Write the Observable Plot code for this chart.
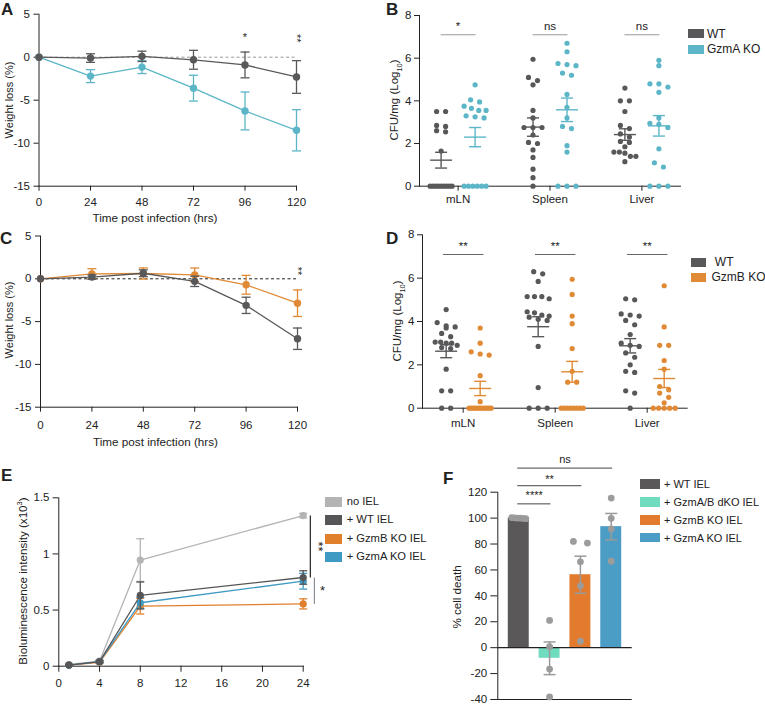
<!DOCTYPE html>
<html><head><meta charset="utf-8">
<script src="https://cdn.jsdelivr.net/npm/d3@7"></script>
<script src="https://cdn.jsdelivr.net/npm/@observablehq/plot@0.6"></script>
<style>
body{margin:0;background:#fff;}
#fig{position:relative;width:765px;height:706px;overflow:hidden;font-family:"Liberation Sans",Arial,Helvetica,sans-serif;color:#222;background:#fff;}
.t{position:absolute;white-space:pre;line-height:1;}
.sw{position:absolute;}
sub,sup{font-size:0.65em;line-height:0;}
</style></head><body><div id="fig"></div>
<script>
// ---------------- DATA ----------------
// Panels A & C: weight loss (%) over time
const hours = [0, 24, 48, 72, 96, 120];
const aWT = [0, -0.1, 0.1, -0.3, -0.9, -2.3];
const aWTerr = [0, 0.5, 0.6, 1.1, 1.5, 1.9];
const aGzmA = [0, -2.2, -1.15, -3.6, -6.25, -8.5];
const aGzmAerr = [0, 0.75, 0.75, 1.5, 2.2, 2.4];
const aSig = [{x: 96, y: 2.3, t: "*", r: 0}, {x: 120, y: 2.2, t: "**", r: 90}];

const cWT = [0, 0.2, 0.65, -0.3, -3.1, -7.0];
const cWTerr = [0, 0.25, 0.4, 0.6, 0.95, 1.25];
const cGzmB = [0, 0.58, 0.62, 0.46, -0.7, -2.85];
const cGzmBerr = [0, 0.6, 0.65, 0.8, 1.1, 1.55];
const cSig = [{x: 120, y: 0.9, t: "**", r: 90}];

// Panels B & D: CFU/mg (log10)
const organs = ["mLN", "Spleen", "Liver"];
const bWT = [
  [3.5, 3.5, 2.85, 2.8, 2.6, 2.55, 1.65, 0, 0, 0, 0, 0, 0, 0, 0, 0],
  [5.95, 5.1, 4.95, 4.75, 3.55, 3.2, 2.75, 2.75, 2.75, 2.4, 2.05, 2.0, 1.7, 1.35, 0.8, 0.4, 0],
  [4.6, 4.0, 4.0, 3.5, 2.85, 2.7, 2.45, 2.3, 2.1, 2.05, 1.85, 1.6, 1.6, 1.55, 1.4, 1.4, 1.15]
];
const bKO = [
  [4.75, 4.05, 3.95, 3.75, 3.65, 3.55, 3.55, 3.3, 3.25, 3.2, 0, 0, 0, 0, 0, 0],
  [6.7, 6.3, 5.75, 5.7, 5.65, 5.3, 5.2, 4.3, 3.7, 3.2, 2.8, 2.7, 1.9, 1.6, 0, 0, 0],
  [5.9, 5.65, 4.8, 4.8, 4.65, 4.4, 3.2, 2.95, 2.9, 2.75, 1.75, 1.1, 0.9, 0, 0, 0]
];
const bWTmean = [1.22, 2.77, 2.42], bWTsem = [0.37, 0.43, 0.27];
const bKOmean = [2.3, 3.58, 2.83], bKOsem = [0.45, 0.55, 0.48];
const bSig = ["*", "ns", "ns"];
const bSigY = 7.1;

const dWT = [
  [4.55, 3.95, 3.8, 3.75, 3.7, 3.45, 3.3, 3.05, 3.05, 3.0, 3.0, 2.9, 2.8, 2.75, 1.8, 0.8, 0.8, 0, 0],
  [6.3, 6.2, 5.85, 5.15, 5.15, 5.15, 5.05, 4.45, 4.4, 4.3, 4.25, 4.2, 4.1, 4.05, 2.85, 0.95, 0, 0, 0],
  [5.05, 5.0, 4.35, 4.3, 4.25, 4.05, 3.85, 3.4, 3.0, 2.9, 2.85, 2.55, 2.35, 2.0, 1.7, 1.65, 0.8, 0.7, 0]
];
const dKO = [
  [3.7, 3.0, 2.6, 2.5, 2.45, 1.5, 0.3, 0, 0, 0, 0, 0, 0, 0, 0, 0, 0, 0],
  [5.95, 5.25, 4.25, 3.9, 2.75, 1.7, 1.2, 1.2, 0, 0, 0, 0, 0, 0, 0, 0],
  [5.65, 3.75, 2.9, 2.9, 2.2, 1.8, 1.0, 0.85, 0.7, 0.5, 0.25, 0, 0, 0, 0, 0]
];
const dWTmean = [2.63, 3.76, 2.88], dWTsem = [0.3, 0.46, 0.33];
const dKOmean = [0.91, 1.68, 1.37], dKOsem = [0.33, 0.48, 0.42];
const dSig = ["**", "**", "**"];
const dSigY = 7.09;

// Panel E: bioluminescence
const eHours = [1, 4, 8, 24];
const eNames = ["no IEL", "+ WT IEL", "+ GzmB KO IEL", "+ GzmA KO IEL"];
const eColors = ["#b4b4b4", "#565658", "#e07f2c", "#3f9ac3"];
const eVals = [
  [0.015, 0.045, 0.945, 1.342],
  [0.01, 0.04, 0.63, 0.79],
  [0.01, 0.035, 0.535, 0.555],
  [0.01, 0.04, 0.565, 0.757]
];
const eErr = [
  [0.01, 0.012, 0.19, 0.02],
  [0.005, 0.01, 0.12, 0.06],
  [0, 0.008, 0.07, 0.045],
  [0, 0.008, 0.05, 0.07]
];
const eSig = [{from: 0, to: 1, t: "**", x: 24.7, tx: 25.45, color: "#222", rot: 90},
              {from: 1, to: 2, t: "*", x: 25.1, tx: 25.9, color: "#8a9098", rot: 0}];

// Panel F: % cell death
const fNames = ["+ WT IEL", "+ GzmA/B dKO IEL", "+ GzmB KO IEL", "+ GzmA KO IEL"];
const fColors = ["#5a5858", "#6fdbbf", "#e27b2d", "#4b9dc5"];
const fMean = [100, -8.2, 56.3, 93.4];
const fSem = [0.4, 12.6, 14.3, 10.2];
const fPoints = [
  [99.6, 100.2, 100, 99.8, 100.4, 100],
  [21, 0.8, -16.5, -38],
  [82, 80.7, 66.3, 47.7, 5],
  [115.5, 99.8, 91.6, 66.7]
];
const fSig = [{from: 0, to: 1, t: "****", y: 111, ty: 117.5},
              {from: 0, to: 2, t: "**", y: 125, ty: 130},
              {from: 0, to: 3, t: "ns", y: 138.6, ty: 145}];

// ---------------- HELPERS ----------------
const FONT = '"Liberation Sans", Arial, Helvetica, sans-serif';
const fig = document.getElementById("fig");
const GRAY = "#58585a", TEAL = "#5cb6c7", ORANGE = "#e08a35";

function place(node, left, top) {
  node.style.position = "absolute";
  node.style.left = left + "px";
  node.style.top = top + "px";
  fig.appendChild(node);
}
function style(fs = "11.5px") {
  return {fontFamily: FONT, fontSize: fs, color: "#222", background: "transparent", overflow: "visible"};
}
function text(html, x, y, {size = 12, weight = "normal", rot = 0, anchor = "center"} = {}) {
  const d = document.createElement("div");
  d.className = "t";
  d.innerHTML = html;
  d.style.fontSize = size + "px";
  d.style.fontWeight = weight;
  d.style.left = x + "px";
  d.style.top = y + "px";
  const tx = anchor === "center" ? "-50%" : "0";
  d.style.transform = `translate(${tx},-50%)`;
  if (rot !== 0) { d.style.transformOrigin = "50% 50%"; d.style.transform = `translate(-50%,-50%) rotate(${rot}deg)`; }
  fig.appendChild(d);
  return d;
}
function letter(ch, x, y) { text(ch, x, y, {size: 17, weight: "bold", anchor: "left"}); }
function swatch(color, x, y, w, h) {
  const d = document.createElement("div");
  d.className = "sw";
  Object.assign(d.style, {left: x + "px", top: (y - h / 2) + "px", width: w + "px", height: h + "px", background: color});
  fig.appendChild(d);
}
const cap = {draw(ctx, size) { const w = Math.sqrt(size / Math.PI); ctx.moveTo(-w, 0); ctx.lineTo(w, 0); }};
function errMarks(data, color, {r = 4.5, sw = 1.3, x = "x"} = {}) {
  const d = data.filter(v => v.e > 0);
  return [
    Plot.ruleX(d, {x, y1: v => v.y - v.e, y2: v => v.y + v.e, stroke: color, strokeWidth: sw}),
    Plot.dot(d, {x, y: v => v.y + v.e, symbol: cap, r, fill: "none", stroke: color, strokeWidth: sw}),
    Plot.dot(d, {x, y: v => v.y - v.e, symbol: cap, r, fill: "none", stroke: color, strokeWidth: sw})
  ];
}
// Prism-like scatter spreading: points whose values fall within tol px share a row
function jitter(values, pxPerY, maxSpacing, maxWidth, tol) {
  const idx = d3.range(values.length).sort((a, b) => values[b] - values[a]);
  const off = new Array(values.length).fill(0);
  let i = 0;
  while (i < idx.length) {
    let j = i + 1;
    while (j < idx.length && (values[idx[i]] - values[idx[j]]) * pxPerY < tol) j++;
    const n = j - i;
    if (n > 1) {
      const s = Math.min(maxSpacing, maxWidth / (n - 1));
      for (let k = 0; k < n; k++) off[idx[i + k]] = (k - (n - 1) / 2) * s;
    }
    i = j;
  }
  return off;
}
const fmt = d => String(d);

// ---------------- A / C ----------------
function weightPlot(series, sigs, dashColor, left, top, m, xPad) {
  const marks = [Plot.ruleY([0], {stroke: dashColor, strokeDasharray: "3,2.5", strokeWidth: 1})];
  for (const s of series) {
    const data = hours.map((h, i) => ({x: h, y: s.y[i], e: s.e[i]}));
    marks.push(...errMarks(data, s.color, {r: 4.5, sw: 1.3}));
    marks.push(Plot.line(data, {x: "x", y: "y", stroke: s.color, strokeWidth: 1.3}));
    marks.push(Plot.dot(data, {x: "x", y: "y", r: 3.7, fill: s.color}));
  }
  marks.push(Plot.text(sigs, {x: "x", y: "y", text: "t", rotate: "r", fontSize: 11, fill: "#222"}));
  const p = Plot.plot({
    width: 380, height: 230, marginLeft: m[0], marginRight: m[1], marginTop: m[2], marginBottom: m[3],
    style: style(),
    x: {domain: [0, 120], ticks: hours, tickSize: 5, tickPadding: xPad, label: null, line: true, tickFormat: fmt},
    y: {domain: [-15, 5], ticks: [5, 0, -5, -10, -15], tickSize: 5, tickPadding: 4, label: null, line: true, tickFormat: fmt},
    marks
  });
  place(p, left, top);
}
weightPlot([
  {y: aGzmA, e: aGzmAerr, color: TEAL},
  {y: aWT, e: aWTerr, color: GRAY}
], aSig, "#9a9a9a", 0, 0, [38.5, 84, 13.7, 44.3], 6.5);
weightPlot([
  {y: cGzmB, e: cGzmBerr, color: ORANGE},
  {y: cWT, e: cWTerr, color: GRAY}
], cSig, "#222", 0, 230, [40, 83, 5.5, 53.3], 8.5);

// ---------------- B / D ----------------
function scatterPlot(cfg) {
  const {wt, ko, wtMean, wtSem, koMean, koSem, koColor, sig, sigY, sigHalf, sigColor, left, top, m, xDomain, yPx, xPad} = cfg;
  const plotW = 375 - m[0] - m[1];
  const pxX = plotW / (xDomain[1] - xDomain[0]);
  const groupOff = 17 / pxX;
  const pts = [], stats = [];
  [[wt, GRAY, -1, wtMean, wtSem], [ko, koColor, 1, koMean, koSem]].forEach(([grp, color, side, mean, sem]) => {
    grp.forEach((vals, i) => {
      const j = jitter(vals, yPx, 9, 22, 5);
      vals.forEach((v, k) => pts.push({x: i + side * groupOff + j[k] / pxX, y: v, color}));
      stats.push({x: i + side * groupOff, y: mean[i], e: sem[i], color});
    });
  });
  const sigData = organs.map((o, i) => ({i, t: sig[i]}));
  const p = Plot.plot({
    width: 375, height: 230, marginLeft: m[0], marginRight: m[1], marginTop: m[2], marginBottom: m[3],
    style: style(),
    x: {domain: xDomain, ticks: [0, 1, 2], tickFormat: i => organs[i], tickSize: 5, tickPadding: xPad, label: null, line: true},
    y: {domain: [0, 8], ticks: [0, 2, 4, 6, 8], tickSize: 5, tickPadding: 3, label: null, line: true, tickFormat: fmt},
    marks: [
      Plot.link(sigData, {x1: d => d.i - sigHalf[0], x2: d => d.i + sigHalf[1], y1: sigY, y2: sigY, stroke: sigColor, strokeWidth: 1.1}),
      Plot.text(sigData, {x: "i", y: sigY, text: "t", dy: -8, fontSize: 11.5, fill: "#222"}),
      Plot.dot(pts, {x: "x", y: "y", r: 2.6, fill: "color"}),
      Plot.ruleX(stats, {x: "x", y1: d => d.y - d.e, y2: d => d.y + d.e, stroke: "color", strokeWidth: 1.4}),
      Plot.dot(stats, {x: "x", y: "y", symbol: cap, r: 11, fill: "none", stroke: "color", strokeWidth: 1.4}),
      Plot.dot(stats, {x: "x", y: d => d.y + d.e, symbol: cap, r: 6, fill: "none", stroke: "color", strokeWidth: 1.4}),
      Plot.dot(stats, {x: "x", y: d => d.y - d.e, symbol: cap, r: 6, fill: "none", stroke: "color", strokeWidth: 1.4})
    ]
  });
  place(p, left, top);
}
scatterPlot({wt: bWT, ko: bKO, wtMean: bWTmean, wtSem: bWTsem, koMean: bKOmean, koSem: bKOsem, koColor: TEAL,
  sig: bSig, sigY: bSigY, sigHalf: [0.19, 0.19], sigColor: "#9a9a9a", left: 390, top: 0, m: [29, 85, 15, 44.3],
  xDomain: [-0.42, 2.42], yPx: 21.33, xPad: 4});
scatterPlot({wt: dWT, ko: dKO, wtMean: dWTmean, wtSem: dWTsem, koMean: dKOmean, koSem: dKOsem, koColor: ORANGE,
  sig: dSig, sigY: dSigY, sigHalf: [0.22, 0.22], sigColor: "#666", left: 390, top: 230, m: [32, 78.3, 4.3, 52.3],
  xDomain: [-0.442, 2.435], yPx: 21.67, xPad: 6});

// ---------------- E ----------------
{
  const marks = [];
  const order = [0, 2, 3, 1];
  for (const s of order) {
    const data = eHours.map((h, i) => ({x: h, y: eVals[s][i], e: eErr[s][i]}));
    marks.push(...errMarks(data, eColors[s], {r: 4, sw: 1.3}));
    marks.push(Plot.line(data, {x: "x", y: "y", stroke: eColors[s], strokeWidth: 1.3}));
    marks.push(Plot.dot(data, {x: "x", y: "y", r: 3.6, fill: eColors[s]}));
  }
  const last = eHours.length - 1;
  marks.push(Plot.link(eSig, {x1: "x", x2: "x", y1: d => eVals[d.from][last], y2: d => eVals[d.to][last], stroke: "color", strokeWidth: 1.2}));
  marks.push(Plot.text(eSig, {x: "tx", y: d => (eVals[d.from][last] + eVals[d.to][last]) / 2, text: "t", rotate: "rot", fontSize: 13, fill: "#222"}));
  const p = Plot.plot({
    width: 385, height: 246, marginLeft: 58.3, marginRight: 82.3, marginTop: 37.3, marginBottom: 40.3,
    style: style(),
    x: {domain: [0, 24], ticks: [0, 4, 8, 12, 16, 20, 24], tickSize: 6, tickPadding: 6.5, label: null, line: true, tickFormat: fmt},
    y: {domain: [0, 1.5], ticks: [0, 0.5, 1, 1.5], tickSize: 5.7, tickPadding: 3.6, label: null, line: true, tickFormat: fmt},
    marks
  });
  place(p, 0, 460);
}

// ---------------- F ----------------
{
  const bars = fMean.map((v, i) => ({i, y: v, e: fSem[i], color: fColors[i]}));
  const pts = [];
  fPoints.forEach((vals, i) => {
    const j = jitter(vals, 1.3, 14, 14, 5);
    vals.forEach((v, k) => pts.push({x: i + j[k] / 30.8, y: v}));
  });
  const p = Plot.plot({
    width: 375, height: 246, marginLeft: 107.3, marginRight: 133.3, marginTop: 31.7, marginBottom: 7,
    style: style(),
    x: {domain: [-0.68, 3.68], axis: null},
    y: {domain: [-40, 120], ticks: [-40, -20, 0, 20, 40, 60, 80, 100, 120], tickSize: 7, tickPadding: 3.6, label: null, line: true, tickFormat: fmt},
    marks: [
      Plot.rect(bars, {x1: d => d.i - 0.34, x2: d => d.i + 0.34, y1: 0, y2: "y", fill: "color"}),
      Plot.ruleY([0, -40], {stroke: "#222", strokeWidth: 1.2}),
      Plot.dot(pts, {x: "x", y: "y", r: 3.4, fill: "#9c9c9c"}),
      ...errMarks(bars.map(b => ({x: b.i, y: b.y, e: b.e})), "#9a9a9a", {r: 6, sw: 1.5}),
      Plot.link(fSig, {x1: d => d.from - 0.05, x2: d => d.to + 0.03, y1: "y", y2: "y", stroke: "#444", strokeWidth: 1}),
      Plot.text(fSig, {x: d => (d.from + d.to) / 2, y: "ty", text: "t", fontSize: 11, fill: "#222"})
    ]
  });
  place(p, 390, 460);
}

// ---------------- TEXT: titles, letters, legends ----------------
text("Weight loss (%)", 8.5, 100, {size: 11, rot: -90});
text("Weight loss (%)", 8.5, 320, {size: 11, rot: -90});
text("Time post infection (hrs)", 155, 218, {size: 11.7});
text("Time post infection (hrs)", 155.5, 441.7, {size: 11.7});
text("CFU/mg (Log<sub>10</sub>)", 395, 100, {size: 11.5, rot: -90});
text("CFU/mg (Log<sub>10</sub>)", 397.5, 321, {size: 11.5, rot: -90});
text("Bioluminescence intensity (x10<sup>3</sup>)", 23, 581, {size: 11.6, rot: -90});
text("% cell death", 457, 597, {size: 11.6, rot: -90});

letter("A", 1, 9);
letter("B", 386, 9);
letter("C", 0, 238);
letter("D", 386, 238);
letter("E", 1, 475);
letter("F", 443, 478);

// legend B
const bLegend = [["WT", GRAY], ["GzmA KO", TEAL]];
bLegend.forEach(([n, c], i) => { swatch(c, 687.7, 33.7 + i * 15.3, 16, 9); text(n, 707, 33.7 + i * 15.3, {size: 12, anchor: "left"}); });
// legend D
const dLegend = [[" WT", GRAY], ["GzmB KO", ORANGE]];
dLegend.forEach(([n, c], i) => { swatch(c, 691, 262.3 + i * 15, 15, 9); text(n, 711.5, 262.3 + i * 15, {size: 12, anchor: "left"}); });
// legend E
eNames.forEach((n, i) => { swatch(eColors[i], 325, 502.3 + i * 18.1, 17, 10); text(n, 346.7, 502.3 + i * 18.1, {size: 11.2, anchor: "left"}); });
// legend F
fNames.forEach((n, i) => { swatch(fColors[i], 640, 484 + i * 17.9, 20, 9.5); text(n, 664, 484 + i * 17.9, {size: 11, anchor: "left"}); });
</script></body></html>
